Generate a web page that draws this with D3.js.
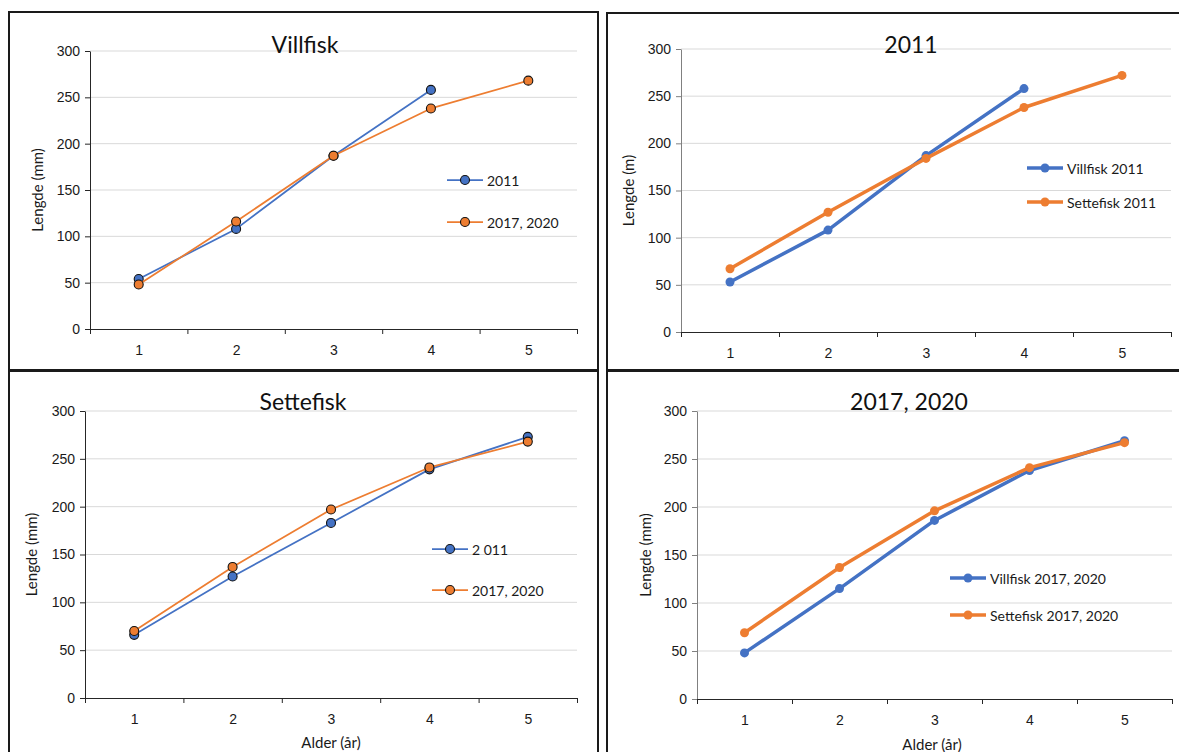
<!DOCTYPE html>
<html>
<head>
<meta charset="utf-8">
<script src="https://cdn.jsdelivr.net/npm/d3@7"></script>
<style>
  body { margin: 0; background: #fff; }
  svg { font-family: Lato, "Open Sans", sans-serif; }
  .grid line { stroke: #d9d9d9; stroke-width: 1; }
  .axis path, .axis line { stroke: #262626; }
  .axis text { fill: #1a1a1a; font-size: 14px; }
</style>
</head>
<body>
<svg id="chart"></svg>
<script>
// shared axes
const ages = [1, 2, 3, 4, 5];
const yTicks = [0, 50, 100, 150, 200, 250, 300];

// Villfisk panel
const villfisk2011 = [54, 108, 187, 258];
const villfisk1720 = [48, 116, 187, 238, 268];
// 2011 panel
const vill2011 = [53, 108, 187, 258];
const sette2011 = [67, 127, 184, 238, 272];
// Settefisk panel
const settefisk2011 = [66, 127, 183, 239, 273];
const settefisk1720 = [70, 137, 197, 241, 268];
// 2017, 2020 panel
const vill1720 = [48, 115, 186, 238, 269];
const sette1720 = [69, 137, 196, 241, 267];

const blue = '#4472c4', orange = '#ed7d31';

const panels = [
  { frame: [9, 12, 589, 358], x0: 90, x1: 577, yTop: 51, yBot: 329, title: 'Villfisk', titleX: 305, titleY: 53,
    yLabel: 'Lengde (mm)', yLabelX: 37, xLabel: null, style: 'thin', legX: 447, legY: [180, 222],
    series: [{ name: '2011', values: villfisk2011, color: blue }, { name: '2017, 2020', values: villfisk1720, color: orange }] },
  { frame: [607, 13, 590, 357], x0: 681, x1: 1171, yTop: 49, yBot: 332, title: '2011', titleX: 911, titleY: 53,
    yLabel: 'Lengde (m)', yLabelX: 628, xLabel: null, style: 'thick', legX: 1027, legY: [168, 202],
    series: [{ name: 'Villfisk 2011', values: vill2011, color: blue }, { name: 'Settefisk 2011', values: sette2011, color: orange }] },
  { frame: [9, 371, 589, 400], x0: 85, x1: 577, yTop: 411, yBot: 698, title: 'Settefisk', titleX: 303, titleY: 410,
    yLabel: 'Lengde (mm)', yLabelX: 31, xLabel: 'Alder (år)', xLabelX: 331, xLabelY: 748, style: 'thin', legX: 432, legY: [549, 590],
    series: [{ name: '2 011', values: settefisk2011, color: blue }, { name: '2017, 2020', values: settefisk1720, color: orange }] },
  { frame: [607, 371, 590, 400], x0: 697, x1: 1172, yTop: 411, yBot: 699, title: '2017, 2020', titleX: 909, titleY: 410,
    yLabel: 'Lengde (mm)', yLabelX: 645, xLabel: 'Alder (år)', xLabelX: 932, xLabelY: 750, style: 'thick', legX: 950, legY: [578, 615],
    series: [{ name: 'Villfisk 2017, 2020', values: vill1720, color: blue }, { name: 'Settefisk 2017, 2020', values: sette1720, color: orange }] }
];

const svg = d3.select('#chart').attr('width', 1179).attr('height', 752);

panels.forEach(p => {
  const g = svg.append('g');
  const thick = p.style === 'thick';

  g.append('rect')
      .attr('x', p.frame[0]).attr('y', p.frame[1])
      .attr('width', p.frame[2]).attr('height', p.frame[3])
      .attr('fill', '#fff').attr('stroke', '#1a1a1a').attr('stroke-width', 2);

  const x = d3.scaleLinear().domain([0.5, 5.5]).range([p.x0, p.x1]);
  const y = d3.scaleLinear().domain([0, 300]).range([p.yBot, p.yTop]);

  // gridlines
  g.append('g').attr('class', 'grid')
      .selectAll('line')
      .data(yTicks.filter(d => d > 0))
      .join('line')
      .attr('x1', p.x0).attr('x2', p.x1)
      .attr('y1', d => y(d)).attr('y2', d => y(d));

  // y axis
  const yAxisG = g.append('g').attr('class', 'axis')
      .attr('transform', `translate(${p.x0},0)`)
      .call(d3.axisLeft(y).tickValues(yTicks).tickSize(5).tickSizeOuter(0).tickPadding(5));
  if (thick) yAxisG.selectAll('path, line').style('stroke', '#808080');

  // x axis: boundary ticks + centred labels
  g.append('g').attr('class', 'axis')
      .attr('transform', `translate(0,${p.yBot})`)
      .call(d3.axisBottom(x).tickValues(d3.range(0.5, 6, 1)).tickSize(5).tickSizeOuter(0).tickFormat(''));
  g.append('g').attr('class', 'axis')
      .attr('transform', `translate(0,${p.yBot})`)
      .call(d3.axisBottom(x).tickValues(ages).tickSize(0).tickPadding(16).tickFormat(d3.format('d')))
      .select('.domain').remove();

  // title
  g.append('text')
      .attr('x', p.titleX).attr('y', p.titleY)
      .attr('text-anchor', 'middle')
      .attr('font-size', 23).attr('fill', '#111')
      .text(p.title);

  // axis titles
  g.append('text')
      .attr('transform', `translate(${p.yLabelX},${(p.yTop + p.yBot) / 2}) rotate(-90)`)
      .attr('text-anchor', 'middle').attr('dominant-baseline', 'central')
      .attr('font-size', 15).attr('fill', '#1a1a1a')
      .text(p.yLabel);
  if (p.xLabel) {
    g.append('text')
        .attr('x', p.xLabelX).attr('y', p.xLabelY)
        .attr('text-anchor', 'middle')
        .attr('font-size', 15).attr('fill', '#1a1a1a')
        .text(p.xLabel);
  }

  const line = d3.line().x((d, i) => x(ages[i])).y(d => y(d));

  p.series.forEach((s, k) => {
    g.append('path')
        .datum(s.values)
        .attr('fill', 'none')
        .attr('stroke', s.color)
        .attr('stroke-width', thick ? 3.5 : 1.75)
        .attr('stroke-linejoin', 'round')
        .attr('d', line);

    g.selectAll(null)
        .data(s.values)
        .join('circle')
        .attr('cx', (d, i) => x(ages[i]))
        .attr('cy', d => y(d))
        .attr('r', 4.5)
        .attr('fill', s.color)
        .attr('stroke', thick ? 'none' : '#111')
        .attr('stroke-width', 1.1);

    // legend
    const ly = p.legY[k];
    g.append('line')
        .attr('x1', p.legX).attr('x2', p.legX + 36)
        .attr('y1', ly).attr('y2', ly)
        .attr('stroke', s.color).attr('stroke-width', thick ? 3.5 : 1.75);
    g.append('circle')
        .attr('cx', p.legX + 18).attr('cy', ly).attr('r', 4.5)
        .attr('fill', s.color)
        .attr('stroke', thick ? 'none' : '#111').attr('stroke-width', 1.1);
    g.append('text')
        .attr('x', p.legX + 40).attr('y', ly)
        .attr('dominant-baseline', 'central')
        .attr('font-size', 14).attr('fill', '#1a1a1a')
        .text(s.name);
  });
});
</script>
</body>
</html>
